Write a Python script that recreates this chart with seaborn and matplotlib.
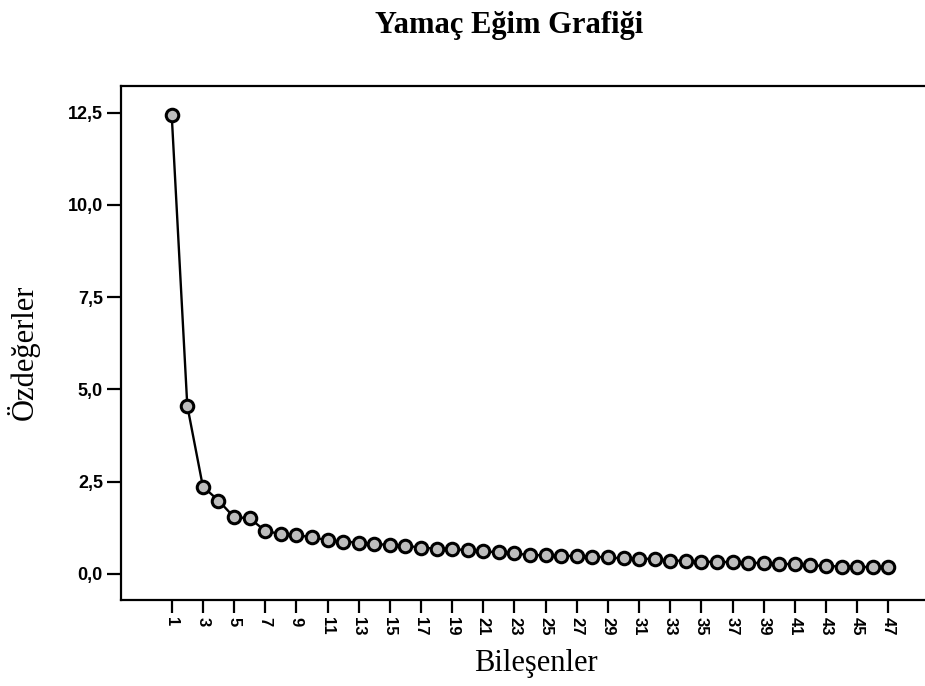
import numpy as np
import pandas as pd
import matplotlib
matplotlib.use("Agg")
import matplotlib.pyplot as plt
from matplotlib.ticker import FuncFormatter
import seaborn as sns

# ---- data ----
components = list(range(1, 48))
eigenvalues = [12.44, 4.56, 2.37, 1.99, 1.54, 1.51, 1.17, 1.08, 1.06, 0.99,
               0.92, 0.88, 0.85, 0.81, 0.79, 0.77, 0.71, 0.69, 0.67, 0.65,
               0.61, 0.59, 0.56, 0.51, 0.51, 0.49, 0.49, 0.47, 0.45, 0.42,
               0.41, 0.41, 0.36, 0.36, 0.33, 0.33, 0.32, 0.31, 0.29, 0.27,
               0.27, 0.23, 0.22, 0.20, 0.20, 0.18, 0.18]
x_ticks = components[::2]
x_tick_labels = [str(v) for v in x_ticks]
y_ticks = [0.0, 2.5, 5.0, 7.5, 10.0, 12.5]
title = "Yamaç Eğim Grafiği"
x_label = "Bileşenler"
y_label = "Özdeğerler"

df = pd.DataFrame({"Bileşen": components, "Özdeğer": eigenvalues})

sns.set_style("white")
plt.rcParams["font.family"] = ["Liberation Sans", "DejaVu Sans"]
plt.rcParams["text.color"] = "black"
plt.rcParams["xtick.color"] = "black"
plt.rcParams["ytick.color"] = "black"

W, H = 925, 686
fig = plt.figure(figsize=(W / 100, H / 100), dpi=100)
ax = fig.add_axes([121 / W, (H - 600) / H, (950 - 121) / W, (600 - 85.7) / H])

sns.lineplot(data=df, x="Bileşen", y="Özdeğer", ax=ax, color="black",
             linewidth=1.7, marker="o", markersize=9,
             markerfacecolor="#bdbdbd", markeredgecolor="black",
             markeredgewidth=2.2, zorder=3)

# axis limits mapped from the reference pixel geometry
px_per_comp = 15.58
ax.set_xlim(1 - (171.7 - 121) / px_per_comp, 1 + (950 - 171.7) / px_per_comp)
ax.set_ylim(-0.705, 13.23)

ax.set_xticks(x_ticks)
ax.set_xticklabels(x_tick_labels, rotation=270, fontsize=12, fontweight="bold")
ax.set_yticks(y_ticks)
ax.yaxis.set_major_formatter(FuncFormatter(lambda v, p: f"{v:.1f}".replace(".", ",")))
for lab in ax.get_yticklabels():
    lab.set_fontweight("bold")
ax.tick_params(axis="y", labelsize=13, length=10, width=1.6, direction="out",
               left=True, pad=3, colors="black")
ax.tick_params(axis="x", labelsize=12, length=9, width=1.6, direction="out",
               bottom=True, pad=3, colors="black")

for s in ax.spines.values():
    s.set_visible(True)
    s.set_color("black")
    s.set_linewidth(1.6)

ax.set_xlabel("")
ax.set_ylabel("")

fig.text(509 / W, 1 - 25 / H, title, ha="center", va="center", color="black",
         fontsize=22, fontweight="bold", family=["Liberation Serif", "DejaVu Serif"])
fig.text(536 / W, 1 - 663 / H, x_label, ha="center", va="center", color="black",
         fontsize=22, family=["Liberation Serif", "DejaVu Serif"])
fig.text(23 / W, 1 - 352 / H, y_label, ha="center", va="center", rotation=90,
         color="black", fontsize=22, family=["Liberation Serif", "DejaVu Serif"])

fig.savefig("out.png", dpi=100)
